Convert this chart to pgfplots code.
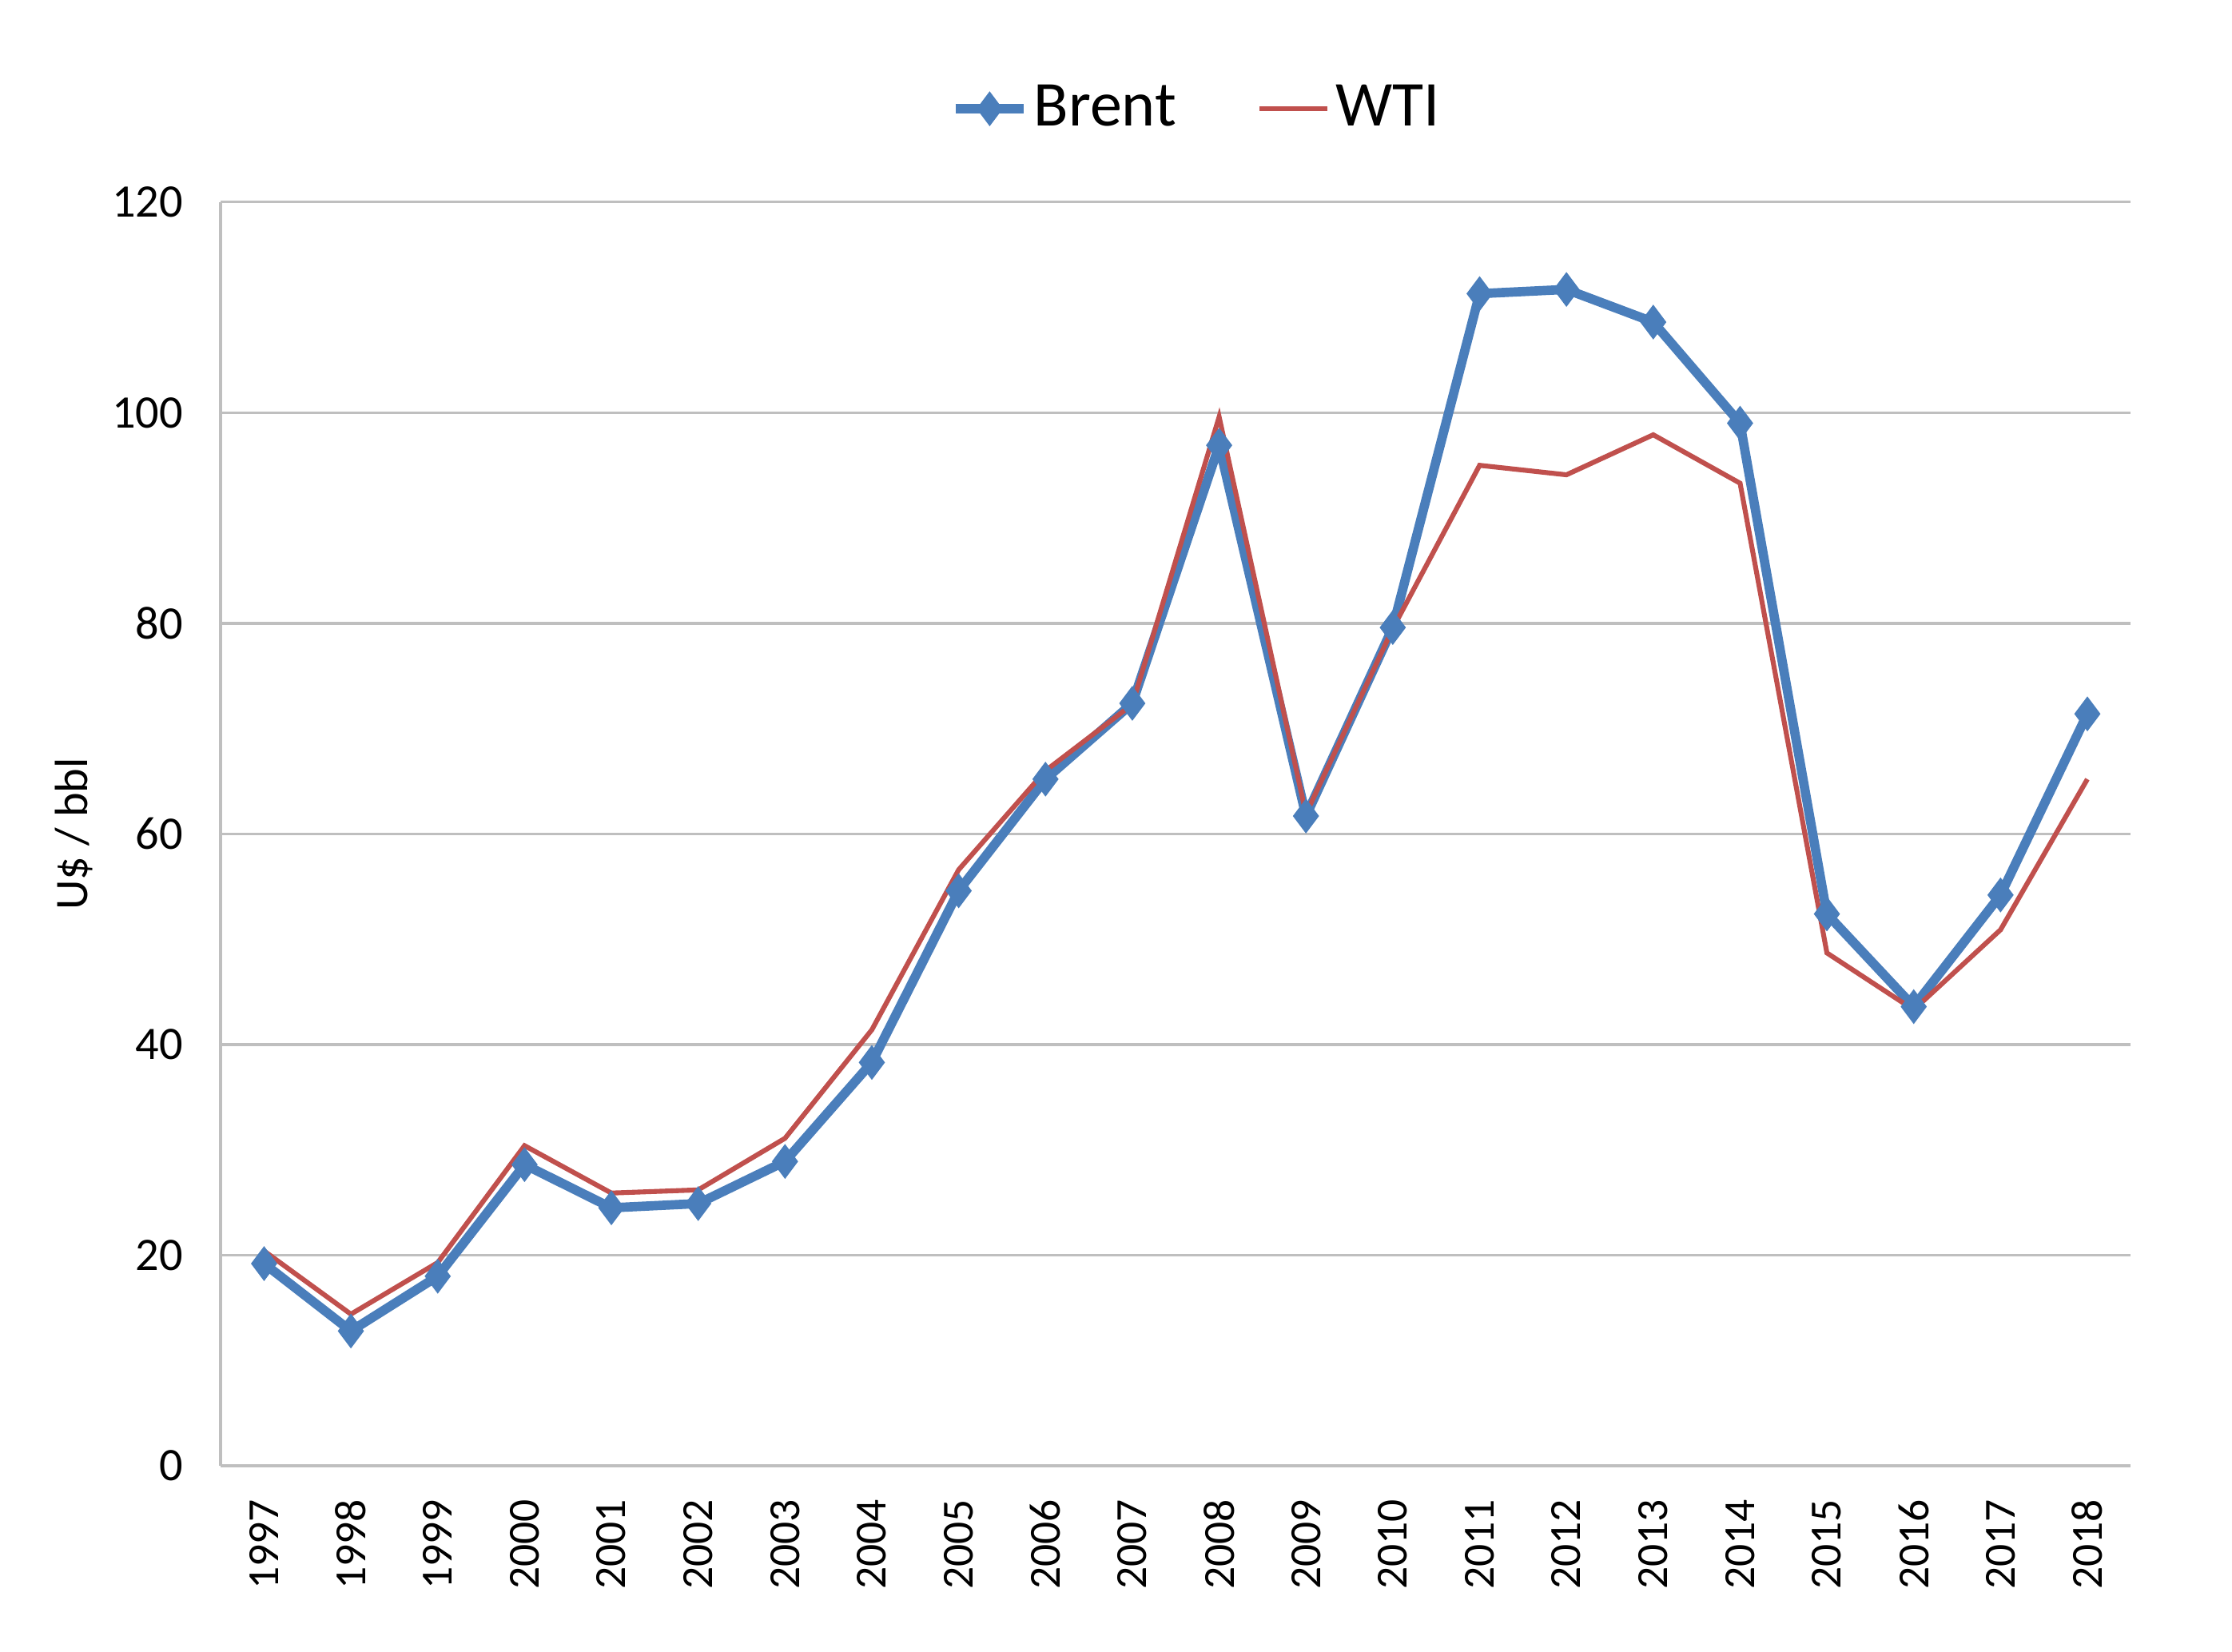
\documentclass[border=0pt]{standalone}
\usepackage{fontspec}
\setmainfont{Carlito}
\usepackage{pgfplots}
\pgfplotsset{compat=1.18}
\definecolor{brent}{HTML}{4A7EBB}
\definecolor{wti}{HTML}{C0504D}
\definecolor{gridg}{HTML}{BFBFBF}
\begin{document}
\begin{tikzpicture}
\useasboundingbox (-49.7pt,-41.9pt) rectangle (453.0pt,330.1pt);
\begin{axis}[
  scale only axis,
  width=430.2pt, height=284.6pt,
  xmin=-0.5, xmax=21.5,
  ymin=0, ymax=120,
  ytick={0,20,...,120},
  xtick={0,...,21},
  xticklabels={1997,1998,1999,2000,2001,2002,2003,2004,2005,2006,2007,2008,2009,2010,2011,2012,2013,2014,2015,2016,2017,2018},
  xticklabel style={rotate=90, anchor=east, xshift=-4pt, font=\fontsize{10}{12}\selectfont},
  yticklabel style={font=\fontsize{10.5}{12}\selectfont, xshift=-5pt},
  /pgf/number format/assume math mode=true,
  axis x line*=bottom, axis y line*=left,
  axis line style={gridg, line width=0.8pt},
  major tick length=0pt,
  ymajorgrids, grid style={gridg, line width=0.6pt},
  ylabel={U\$ / bbl},
  ylabel style={font=\fontsize{10.5}{12}\selectfont, at={(axis description cs:-0.0767,0.5)}, anchor=center},
  legend columns=2,
  legend style={draw=none, fill=none, at={(0.5,1)}, anchor=center, yshift=21pt, xshift=5pt,
    font=\fontsize{14.4}{17}\selectfont, nodes={inner xsep=1.2pt},
    /tikz/every even column/.append style={column sep=17pt}},
  legend image code/.code={\draw[mark repeat=2,mark phase=2,#1] plot coordinates {(0cm,0cm) (0.27cm,0cm) (0.54cm,0cm)};},
  legend cell align=left,
  clip=false,
]
\addplot[brent, line width=2.1pt, mark=diamond*, mark size=3.6pt, mark options={fill=brent, draw=brent, line width=0.4pt}] coordinates {
(0,19.2) (1,12.8) (2,18.0) (3,28.6) (4,24.5) (5,24.9) (6,28.9) (7,38.3) (8,54.6) (9,65.2) (10,72.4) (11,96.9) (12,61.7) (13,79.6) (14,111.3) (15,111.7) (16,108.6) (17,99.0) (18,52.4) (19,43.6) (20,54.2) (21,71.4)
};
\addlegendentry{Brent}
\addplot[wti, line width=1.1pt, mark=none] coordinates {
(0,20.4) (1,14.4) (2,19.3) (3,30.4) (4,25.9) (5,26.2) (6,31.1) (7,41.4) (8,56.6) (9,66.0) (10,72.3) (11,99.6) (12,61.9) (13,79.5) (14,95.0) (15,94.1) (16,97.9) (17,93.3) (18,48.7) (19,43.3) (20,50.9) (21,65.2)
};
\addlegendentry{WTI}
\end{axis}
\end{tikzpicture}
\end{document}
